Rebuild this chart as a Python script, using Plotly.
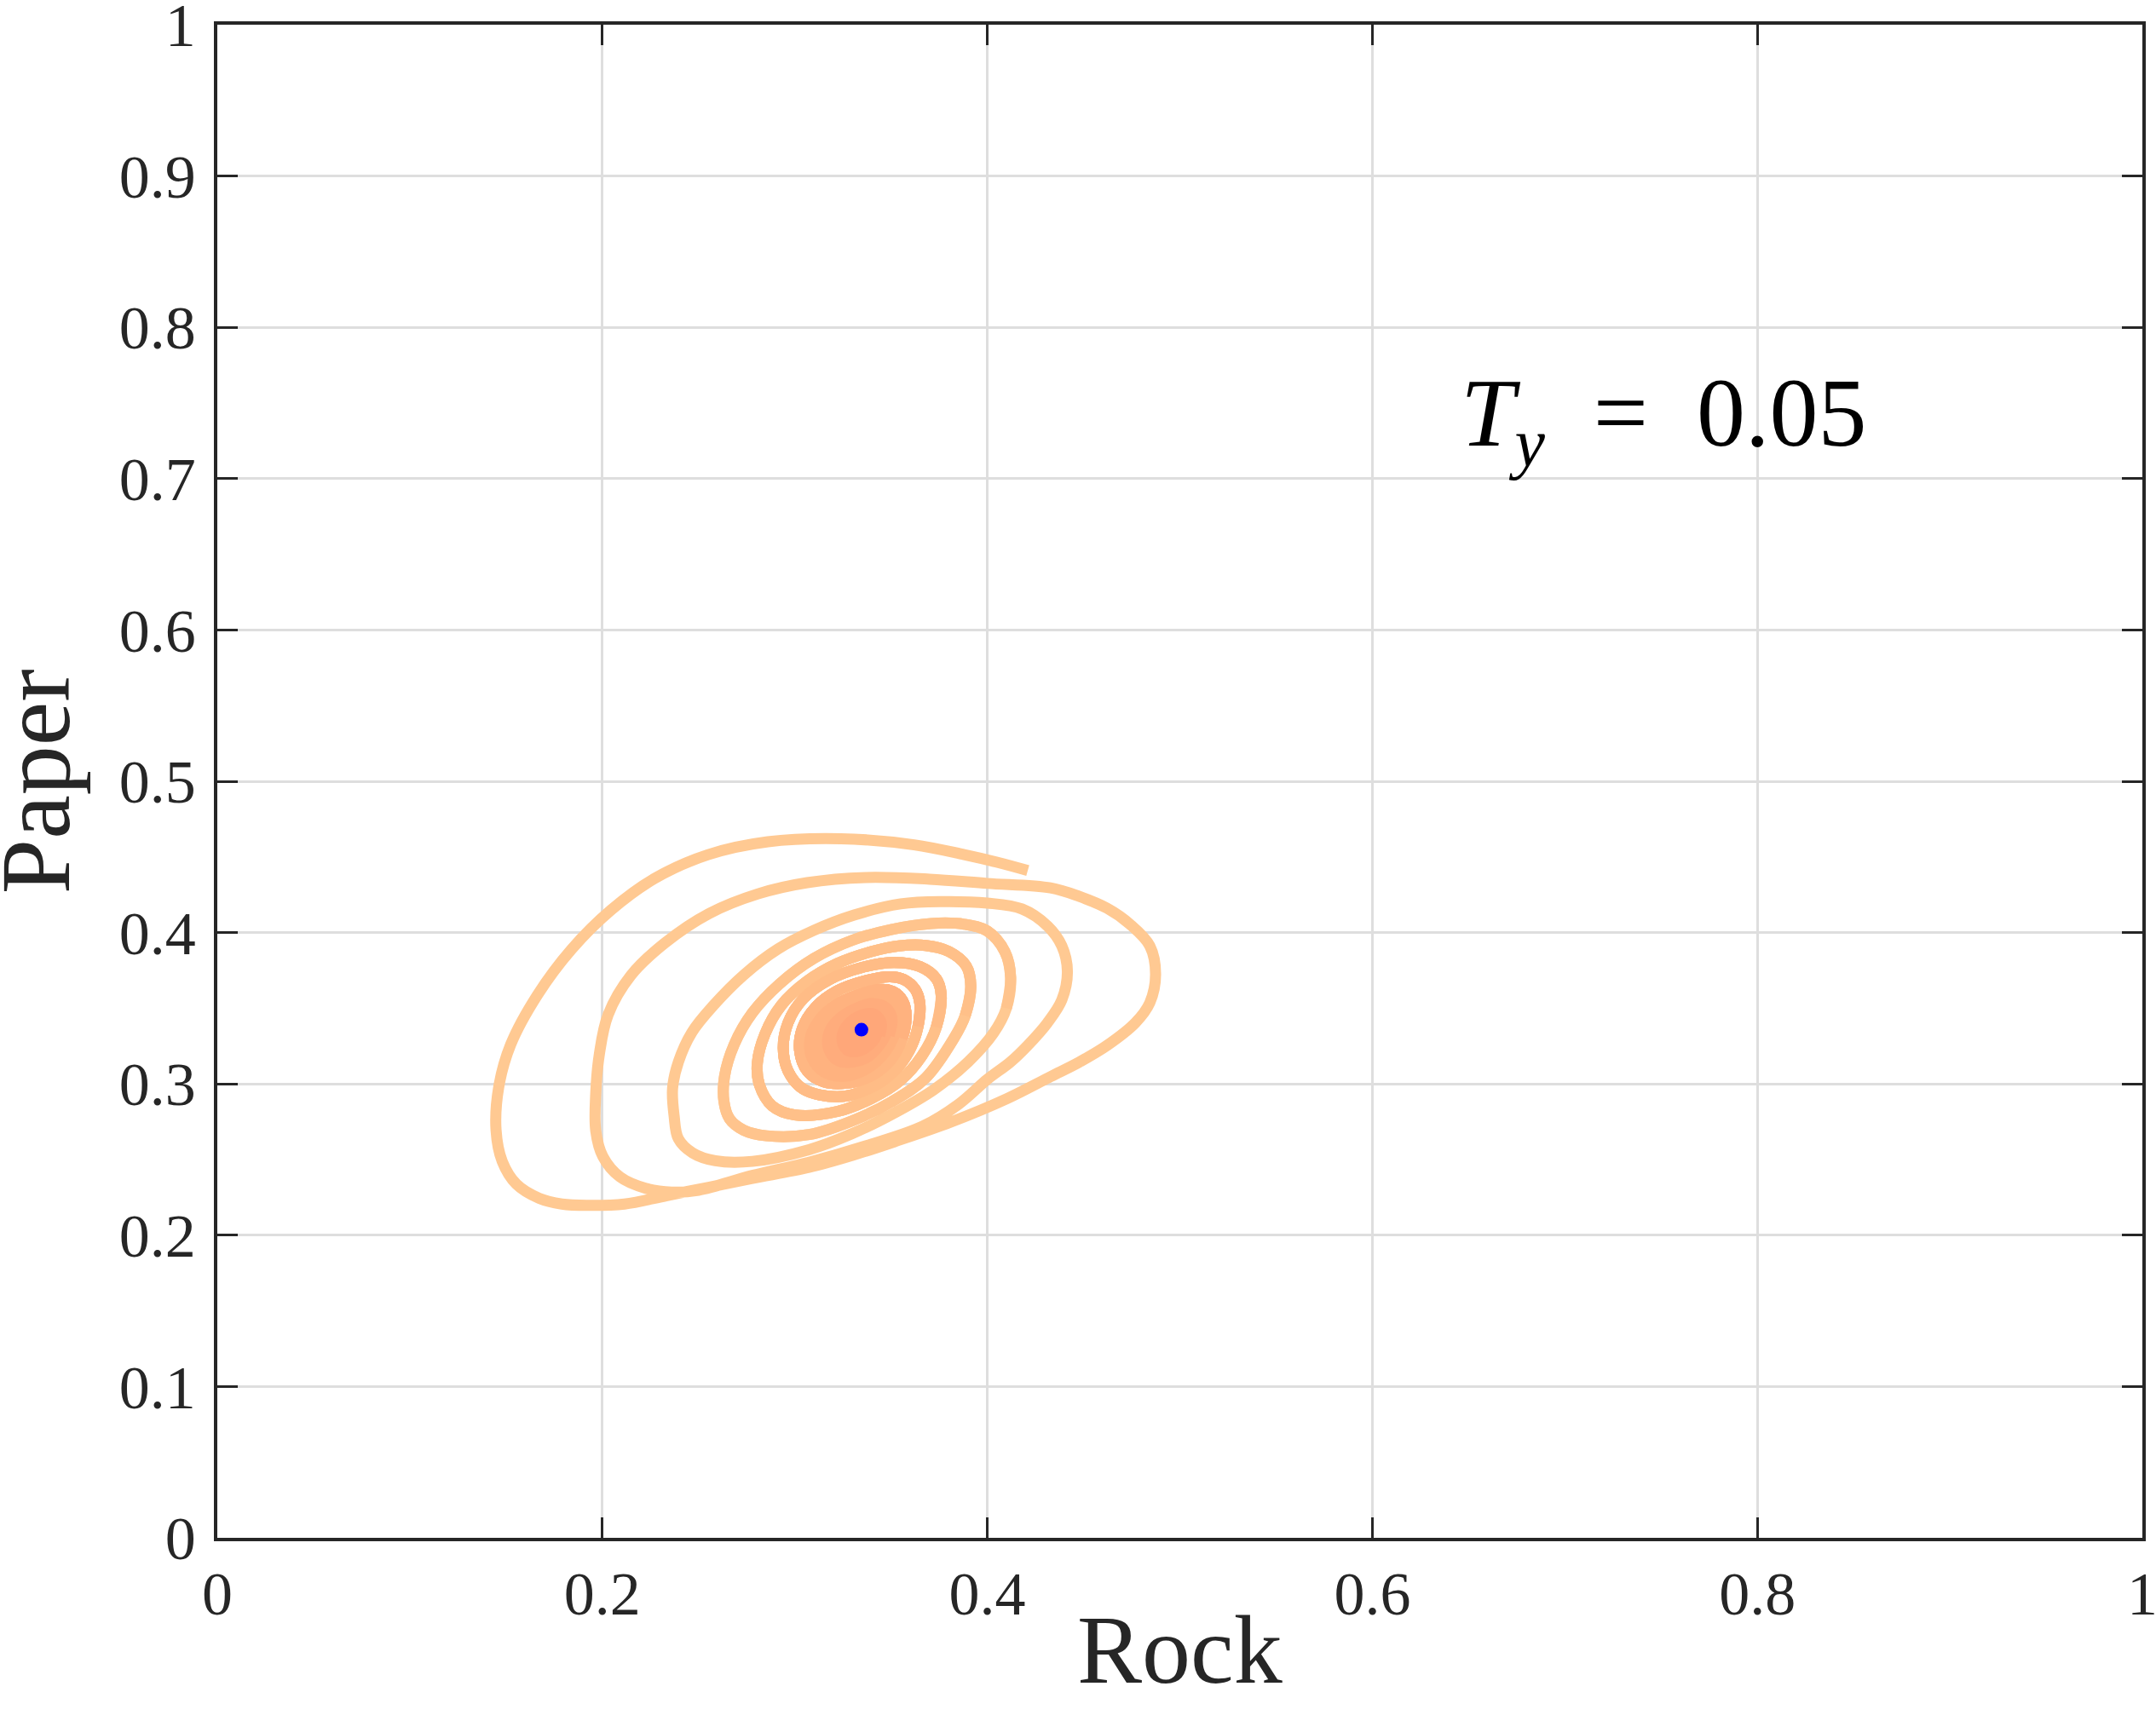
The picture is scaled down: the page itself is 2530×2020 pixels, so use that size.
import plotly.graph_objects as go

# ---- trajectory, one list per loop of the spiral ----
# each loop starts where the previous one ended (its rightmost point)
rock_c1 = [0.421, 0.405, 0.388, 0.362, 0.324, 0.286, 0.255, 0.2275, 0.2046, 0.184, 0.1664, 0.1524, 0.1462, 0.1448, 0.148, 0.1554, 0.1672, 0.179, 0.1923, 0.2115, 0.2336, 0.2558, 0.2779, 0.3073, 0.33, 0.3516, 0.3811, 0.4106, 0.4328, 0.4475, 0.4623, 0.477, 0.4844, 0.4874]
paper_c1 = [0.441, 0.4465, 0.4515, 0.458, 0.462, 0.460, 0.4515, 0.436, 0.415, 0.389, 0.359, 0.326, 0.298, 0.2694, 0.2488, 0.2337, 0.2244, 0.2206, 0.2197, 0.2206, 0.2262, 0.2318, 0.2375, 0.2448, 0.2528, 0.2617, 0.2748, 0.2905, 0.3048, 0.3142, 0.3255, 0.3405, 0.3536, 0.3724]

rock_c2 = [0.4874, 0.4844, 0.4741, 0.4623, 0.4475, 0.4328, 0.4, 0.37, 0.3369, 0.3064, 0.2809, 0.2555, 0.2326, 0.2148, 0.203, 0.1985, 0.1966, 0.1966, 0.2003, 0.2092, 0.2225, 0.236, 0.25, 0.278, 0.3073, 0.3368, 0.3664, 0.385, 0.40, 0.412, 0.421, 0.4313, 0.4387, 0.4416]
paper_c2 = [0.3724, 0.3912, 0.4055, 0.416, 0.424, 0.4295, 0.4325, 0.4353, 0.4364, 0.433, 0.4256, 0.4126, 0.3932, 0.3716, 0.3457, 0.32, 0.294, 0.269, 0.252, 0.2385, 0.231, 0.2285, 0.2297, 0.2395, 0.2482, 0.259, 0.272, 0.2865, 0.303, 0.3145, 0.3255, 0.3405, 0.3555, 0.3743]

rock_c3 = [0.4416, 0.4387, 0.4313, 0.418, 0.40, 0.3763, 0.355, 0.3308, 0.31, 0.2913, 0.2735, 0.2577, 0.2465, 0.2395, 0.2365, 0.2373, 0.2395, 0.2469, 0.2587, 0.278, 0.3073, 0.3296, 0.352, 0.372, 0.39, 0.4032, 0.4099, 0.4121]
paper_c3 = [0.3743, 0.3912, 0.4043, 0.4156, 0.4195, 0.4205, 0.419, 0.4116, 0.4015, 0.3892, 0.372, 0.3518, 0.334, 0.3144, 0.297, 0.2788, 0.2638, 0.2544, 0.2492, 0.2488, 0.2565, 0.2670, 0.2810, 0.2960, 0.3145, 0.3335, 0.3500, 0.3705]

rock_c4 = [0.4121, 0.4091, 0.40, 0.388, 0.3708, 0.35, 0.33, 0.31, 0.292, 0.278, 0.2685, 0.2635, 0.2632, 0.2661, 0.2735, 0.2853, 0.3074, 0.3296, 0.35, 0.368, 0.3826, 0.3885, 0.3914]
paper_c4 = [0.3705, 0.3874, 0.401, 0.4055, 0.406, 0.402, 0.395, 0.383, 0.366, 0.347, 0.326, 0.305, 0.2882, 0.2769, 0.2694, 0.2657, 0.2665, 0.2755, 0.2880, 0.3040, 0.3300, 0.3450, 0.3649]

rock_c5 = [0.3914, 0.389, 0.380, 0.368, 0.354, 0.34, 0.322, 0.306, 0.293, 0.2845, 0.2805, 0.2816, 0.2882, 0.300, 0.3222, 0.34, 0.355, 0.366, 0.3735, 0.376]
paper_c5 = [0.3649, 0.378, 0.3875, 0.3915, 0.3912, 0.3875, 0.3795, 0.3675, 0.352, 0.333, 0.3135, 0.2994, 0.2855, 0.2795, 0.2818, 0.2905, 0.3025, 0.3185, 0.3375, 0.3593]

rock_c6 = [0.376, 0.3735, 0.365, 0.3516, 0.335, 0.318, 0.3045, 0.2965, 0.294, 0.2965, 0.3045, 0.3222, 0.338, 0.351, 0.3595, 0.364, 0.3649]
paper_c6 = [0.3593, 0.3695, 0.3775, 0.3802, 0.377, 0.369, 0.3565, 0.3405, 0.3235, 0.3085, 0.2965, 0.2915, 0.2965, 0.3075, 0.322, 0.338, 0.3536]

rock_c7 = [0.3649, 0.3625, 0.3565, 0.3495, 0.336, 0.322, 0.311, 0.304, 0.3025, 0.3065, 0.3148, 0.327, 0.340, 0.350, 0.3558, 0.3578]
paper_c7 = [0.3536, 0.3625, 0.369, 0.3708, 0.368, 0.3615, 0.351, 0.337, 0.322, 0.3085, 0.3015, 0.3005, 0.3055, 0.316, 0.33, 0.345]

rock_c8 = [0.3578, 0.356, 0.351, 0.344, 0.333, 0.321, 0.3125, 0.308, 0.309, 0.315, 0.325, 0.336, 0.345, 0.351, 0.3535]
paper_c8 = [0.345, 0.355, 0.361, 0.3625, 0.359, 0.352, 0.342, 0.33, 0.317, 0.308, 0.305, 0.309, 0.318, 0.33, 0.342]

rock_c9 = [0.3535, 0.352, 0.3475, 0.341, 0.332, 0.322, 0.315, 0.3125, 0.3145, 0.32, 0.328, 0.337, 0.3445, 0.349, 0.3505]
paper_c9 = [0.342, 0.35, 0.3555, 0.357, 0.3535, 0.347, 0.338, 0.328, 0.318, 0.3115, 0.3105, 0.314, 0.322, 0.332, 0.342]

rock_c10 = [0.3505, 0.349, 0.345, 0.3395, 0.332, 0.3245, 0.319, 0.317, 0.3185, 0.323, 0.33, 0.3375, 0.343, 0.347, 0.348]
paper_c10 = [0.342, 0.348, 0.352, 0.353, 0.35, 0.3445, 0.337, 0.3285, 0.3205, 0.315, 0.3145, 0.3175, 0.324, 0.332, 0.341]

rock_c11 = [0.348, 0.346, 0.343, 0.3385, 0.332, 0.3265, 0.322, 0.3205, 0.322, 0.3255, 0.331, 0.3365, 0.341, 0.344, 0.345]
paper_c11 = [0.341, 0.346, 0.3495, 0.35, 0.3475, 0.3425, 0.3365, 0.329, 0.3225, 0.318, 0.3175, 0.3205, 0.3255, 0.332, 0.339]

rock_c12 = [0.345, 0.3437, 0.3413, 0.338, 0.333, 0.3285, 0.3255, 0.3245, 0.3255, 0.3285, 0.3325, 0.337, 0.3405, 0.3425, 0.343]
paper_c12 = [0.339, 0.3435, 0.346, 0.3465, 0.3445, 0.3405, 0.3355, 0.33, 0.325, 0.3215, 0.3215, 0.324, 0.328, 0.3325, 0.338]

rock_c13 = [0.343, 0.3415, 0.3395, 0.337, 0.3335, 0.3305, 0.3285, 0.328, 0.329, 0.331, 0.334, 0.337, 0.3395, 0.3408, 0.341]
paper_c13 = [0.338, 0.341, 0.343, 0.3432, 0.3418, 0.3388, 0.335, 0.331, 0.3275, 0.3255, 0.3257, 0.3275, 0.3305, 0.334, 0.338]

rock_c14 = [0.341, 0.3395, 0.337, 0.3345, 0.3325, 0.3318, 0.3325, 0.3345, 0.3365, 0.3375, 0.3368, 0.3346]
paper_c14 = [0.338, 0.3405, 0.341, 0.3398, 0.3375, 0.3348, 0.3322, 0.331, 0.3318, 0.3338, 0.3352, 0.3358]

# final state (blue marker)
rock_end = [0.3346]
paper_end = [0.3358]

x_ticks = [0, 0.2, 0.4, 0.6, 0.8, 1]
x_tick_labels = ["0", "0.2", "0.4", "0.6", "0.8", "1"]
y_ticks = [0, 0.1, 0.2, 0.3, 0.4, 0.5, 0.6, 0.7, 0.8, 0.9, 1]
y_tick_labels = ["0", "0.1", "0.2", "0.3", "0.4", "0.5", "0.6", "0.7", "0.8", "0.9", "1"]

x_title = "Rock"
y_title = "Paper"
annotation_text = "<i>T</i><sub><i>y</i></sub>&nbsp;&nbsp;=&nbsp;&nbsp;0.05"

# ---- assemble the continuous path ----
rock_loops = [rock_c1, rock_c2, rock_c3, rock_c4, rock_c5, rock_c6, rock_c7,
              rock_c8, rock_c9, rock_c10, rock_c11, rock_c12, rock_c13, rock_c14]
paper_loops = [paper_c1, paper_c2, paper_c3, paper_c4, paper_c5, paper_c6, paper_c7,
               paper_c8, paper_c9, paper_c10, paper_c11, paper_c12, paper_c13, paper_c14]

path_x, path_y, loop_start = [], [], []
for i, (rx, py) in enumerate(zip(rock_loops, paper_loops)):
    skip = 0 if i == 0 else 1  # shared junction point
    loop_start.append(len(path_x) - (0 if i == 0 else 1))
    path_x.extend(rx[skip:])
    path_y.extend(py[skip:])

# colour layers: base path, then darker overlays from a given loop onward
overlay_from = [0, 3, 4, 5, 6, 7, 9, 11]
overlay_colors = ["rgb(255,201,146)", "rgb(255,196,141)", "rgb(255,192,137)",
                  "rgb(255,188,134)", "rgb(255,183,131)", "rgb(255,178,127)",
                  "rgb(255,172,124)", "rgb(255,167,121)"]

SERIF = "Liberation Serif"
AX = "#262626"

fig = go.Figure()
for lp, col in zip(overlay_from, overlay_colors):
    s = max(loop_start[lp] - 1, 0)  # one lead-in point keeps the spline shape
    fig.add_trace(go.Scatter(
        x=path_x[s:], y=path_y[s:], mode="lines",
        line=dict(color=col, width=13, shape="spline", smoothing=1.0),
        hoverinfo="skip", showlegend=False))

fig.add_trace(go.Scatter(
    x=rock_end, y=paper_end, mode="markers",
    marker=dict(color="blue", size=16, line=dict(width=0)),
    showlegend=False, hoverinfo="skip"))

axis_common = dict(
    range=[0, 1], showline=True, linewidth=3.5, linecolor=AX, mirror="ticks",
    ticks="inside", ticklen=24, tickwidth=3, tickcolor=AX,
    showgrid=True, gridcolor="#DEDEDE", gridwidth=3, zeroline=False,
    tickfont=dict(family=SERIF, size=72, color=AX), ticklabeloverflow="allow",
    automargin=False,
)

fig.update_xaxes(**axis_common, tickvals=x_ticks, ticktext=x_tick_labels,
                 ticklabelstandoff=0)
fig.update_yaxes(**axis_common, tickvals=y_ticks, ticktext=y_tick_labels,
                 ticklabelstandoff=7)

# axis titles placed as text in the margins
fig.add_annotation(x=0.5, y=-0.037, xref="paper", yref="paper", text=x_title,
                   showarrow=False, xanchor="center", yanchor="top",
                   font=dict(family=SERIF, size=114, color=AX))
fig.add_annotation(x=-0.065, y=0.5, xref="paper", yref="paper", text=y_title,
                   showarrow=False, xanchor="right", yanchor="middle", textangle=-90,
                   font=dict(family=SERIF, size=116, color=AX))

fig.add_annotation(x=0.645, y=0.739, xref="x", yref="y", text=annotation_text,
                   showarrow=False, xanchor="left", yanchor="middle",
                   font=dict(family=SERIF, size=114, color="black"))

fig.update_layout(width=2530, height=2020,
                  margin=dict(l=255, r=16, t=29, b=215),
                  plot_bgcolor="white", paper_bgcolor="white",
                  showlegend=False)

# page body margin removed so the figure sits at the window's top-left corner
fig.write_html("out.html", config={"displayModeBar": False},
               post_script="document.body.style.margin='0';")
